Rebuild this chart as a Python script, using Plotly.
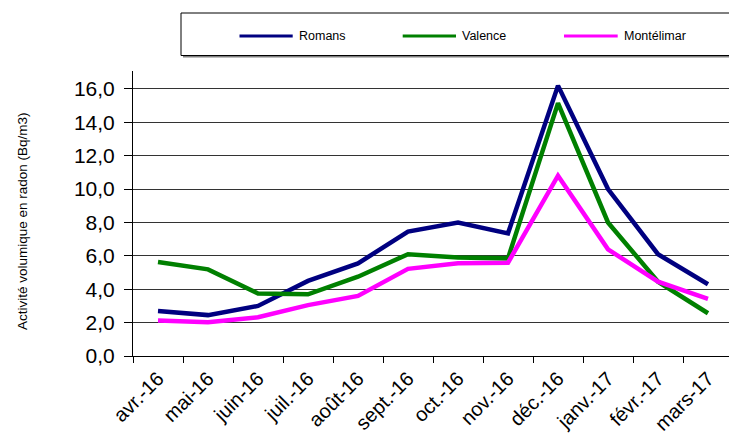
import plotly.graph_objects as go

# Monthly radon activity (Bq/m3) at three sites
months = ["avr.-16", "mai-16", "juin-16", "juil.-16", "août-16", "sept.-16",
          "oct.-16", "nov.-16", "déc.-16", "janv.-17", "févr.-17", "mars-17"]
romans = [2.7, 2.45, 3.0, 4.5, 5.55, 7.45, 8.0, 7.35, 16.2, 10.0, 6.1, 4.3]
valence = [5.63, 5.19, 3.75, 3.7, 4.75, 6.1, 5.9, 5.85, 15.15, 8.0, 4.45, 2.56]
montelimar = [2.12, 2.02, 2.32, 3.05, 3.6, 5.22, 5.55, 5.59, 10.8, 6.39, 4.45, 3.42]

series_names = ["Romans", "Valence", "Montélimar"]
series_values = [romans, valence, montelimar]
series_colors = ["#000080", "#008000", "#FF00FF"]

W, H = 729, 436
ML, MR, MT, MB = 133, 0, 71, 80
PW, PH = W - ML - MR, H - MT - MB
FONT = "Liberation Sans, Arial, sans-serif"


def px_x(x):
    return (x - ML) / PW


def px_y(y):
    return (H - MB - y) / PH


fig = go.Figure()
for name, vals, col in zip(series_names, series_values, series_colors):
    fig.add_trace(go.Scatter(x=months, y=vals, name=name, mode="lines",
                             line=dict(color=col, width=4.5),
                             showlegend=False))

shapes = []
# legend frame with a soft shadow along the bottom
shapes.append(dict(type="rect", xref="paper", yref="paper",
                   x0=px_x(183), x1=1.05, y0=px_y(57.5), y1=px_y(15),
                   line=dict(width=0), fillcolor="#808080", layer="above"))
shapes.append(dict(type="rect", xref="paper", yref="paper",
                   x0=px_x(181), x1=1.05, y0=px_y(55.5), y1=px_y(13),
                   line=dict(color="black", width=1), fillcolor="white",
                   layer="above"))
annotations = []
leg_x = [(239.5, 292.7, 297), (402.7, 456, 460), (564, 617.7, 622)]
for (x0, x1, tx), name, col in zip(leg_x, series_names, series_colors):
    shapes.append(dict(type="line", xref="paper", yref="paper",
                       x0=px_x(x0), x1=px_x(x1), y0=px_y(36), y1=px_y(36),
                       line=dict(color=col, width=3), layer="above"))
    annotations.append(dict(text=name, xref="paper", yref="paper",
                            x=px_x(tx), y=px_y(36), xanchor="left",
                            yanchor="middle", showarrow=False,
                            font=dict(family=FONT, size=12.5, color="black")))

annotations.append(dict(text="Activité volumique en radon (Bq/m3)",
                        xref="paper", yref="paper", x=px_x(22), y=px_y(221),
                        xanchor="center", yanchor="middle", textangle=-90,
                        showarrow=False,
                        font=dict(family=FONT, size=13.5, color="black")))

fig.update_layout(
    width=W, height=H,
    margin=dict(l=ML, r=MR, t=MT, b=MB, pad=0, autoexpand=False),
    paper_bgcolor="white", plot_bgcolor="white",
    separators=", ",
    font=dict(family=FONT, color="black"),
    shapes=shapes, annotations=annotations,
    xaxis=dict(type="category", range=[-0.5, -0.5 + PW / 50],
               automargin=False,
               tickson="boundaries", ticks="outside", ticklen=6,
               tickcolor="black", tickwidth=1, ticklabelstandoff=2,
               showline=True, linecolor="black", linewidth=1,
               showgrid=False, tickangle=-45,
               tickfont=dict(family=FONT, size=20, color="black")),
    yaxis=dict(range=[0, PH / 16.69], tickvals=[0, 2, 4, 6, 8, 10, 12, 14, 16],
               automargin=False,
               tickformat=".1f", ticks="outside", ticklen=8,
               tickcolor="black", tickwidth=1, ticklabelstandoff=5,
               showline=True, linecolor="black", linewidth=1,
               showgrid=True, gridcolor="#333333", gridwidth=1,
               zeroline=False,
               tickfont=dict(family=FONT, size=21, color="black")),
)

fig.write_html("out.html")
